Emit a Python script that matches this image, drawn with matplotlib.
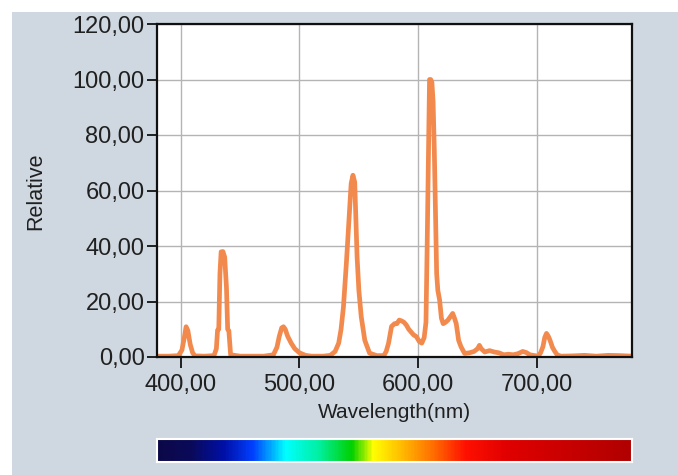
import matplotlib
matplotlib.use('Agg')
import matplotlib.pyplot as plt
import numpy as np
from matplotlib.colors import LinearSegmentedColormap
from matplotlib.patches import Rectangle

# spectrum (nm, relative intensity)
wavelength = [380, 390, 398, 401, 403, 404.5, 406, 408, 410, 412, 420, 428, 430, 431, 432,
              433, 434, 435.5, 437, 438.5, 439.5, 440.5, 442, 450, 470, 478, 481, 483, 485,
              486.5, 488, 490, 493, 496, 500, 505, 510, 520, 526, 530, 533, 535, 537, 539.5,
              541.5, 543.5, 545, 546.5, 547.5, 548.5, 550, 552, 555, 559, 565, 571, 573, 575,
              577.5, 580, 582, 584, 586, 588, 590, 592, 594, 596, 598.5, 601, 603, 605, 606.5,
              607.5, 608.5, 609.5, 610.5, 611.5, 612.5, 613.5, 614.5, 615.5, 616.5, 618, 619.5,
              621, 623, 625, 627, 629, 630.5, 632, 634, 636, 639, 643, 647, 650, 651.5, 653,
              656, 660, 664, 668, 672, 676, 680, 684, 688, 691, 694, 698, 701, 703, 705, 706.5,
              708, 709.5, 711, 713, 715, 717, 720, 730, 740, 750, 760, 770, 780]
relative = [0.3, 0.3, 0.5, 2.5, 7.0, 10.9, 9.5, 4.5, 1.5, 0.4, 0.3, 0.5, 3.0, 9.7, 10.0,
            30.0, 37.9, 38.0, 36.0, 25.0, 10.0, 9.5, 0.8, 0.3, 0.3, 0.8, 3.5, 7.5, 10.5,
            10.9, 10.0, 7.5, 5.0, 3.0, 1.5, 0.6, 0.3, 0.3, 0.6, 2.0, 5.0, 10.0, 18.0, 34.0,
            48.0, 62.5, 65.5, 63.0, 50.0, 36.0, 24.0, 14.5, 6.0, 1.4, 0.5, 0.5, 2.0, 5.0,
            11.0, 12.0, 12.0, 13.3, 13.0, 12.5, 11.5, 10.0, 9.0, 8.0, 7.3, 5.5, 5.0, 7.0, 12.5,
            40.0, 71.0, 100.0, 100.0, 99.0, 92.0, 75.0, 52.0, 30.0, 24.0, 20.5, 14.0,
            12.0, 12.5, 13.3, 14.5, 15.7, 14.0, 12.0, 6.0, 3.7, 1.3, 1.5, 2.0, 3.0, 4.2, 3.0,
            1.8, 2.3, 1.8, 1.5, 0.8, 1.0, 0.8, 1.2, 2.0, 1.6, 0.8, 0.5, 0.3, 1.5, 3.7, 7.0,
            8.5, 7.5, 6.0, 3.5, 2.0, 0.8, 0.3, 0.4, 0.6, 0.3, 0.6, 0.5, 0.3]

xticks = [400, 500, 600, 700]
yticks = [0, 20, 40, 60, 80, 100, 120]

spectrum_stops = [(0.0, '#0c0848'), (0.07, '#0a0a5a'), (0.14, '#0010a8'), (0.20, '#0040ff'),
                  (0.27, '#00ffff'), (0.34, '#00f0a0'), (0.41, '#00d000'), (0.455, '#ffff00'),
                  (0.525, '#ffb000'), (0.58, '#ff7000'), (0.65, '#ff1000'), (0.74, '#e00000'),
                  (1.0, '#b00000')]

plt.rcParams['font.family'] = ['Liberation Sans', 'DejaVu Sans']

W, H = 678, 475
fig = plt.figure(figsize=(W / 100, H / 100), dpi=100, facecolor='white')
fig.patches.append(Rectangle((12 / W, 0), 1, (H - 12) / H, transform=fig.transFigure,
                             facecolor='#cfd8e0', edgecolor='none', zorder=-10))

ax = fig.add_axes([157 / W, (H - 357) / H, 475 / W, 333 / H])
ax.plot(wavelength, relative, color='#f28a4e', lw=3.4, solid_joinstyle='round')
ax.set_xlim(380, 780)
ax.set_ylim(0, 120)
ax.set_xticks(xticks)
ax.set_xticklabels([f'{v:.2f}'.replace('.', ',') for v in xticks])
ax.set_yticks(yticks)
ax.set_yticklabels([f'{v:.2f}'.replace('.', ',') for v in yticks])
ax.grid(True, color='#b4b4b4', lw=1.0)
ax.set_axisbelow(True)
for s in ax.spines.values():
    s.set_color('#101010')
    s.set_linewidth(1.6)
ax.tick_params(axis='y', direction='out', length=7, width=1.2, pad=2, labelsize=17,
               labelcolor='#202020')
ax.tick_params(axis='x', direction='out', length=8, width=1.2, pad=4, labelsize=17,
               labelcolor='#202020')
ax.set_xlabel('Wavelength(nm)', fontsize=15, color='#202020', labelpad=5)
fig.text(35.5 / W, 1 - 191 / H, 'Relative', rotation=90, fontsize=15.5, color='#202020',
         ha='center', va='center')

# spectrum bar under the axis
cmap = LinearSegmentedColormap.from_list('spec', spectrum_stops)
cax = fig.add_axes([157 / W, (H - 462) / H, 475 / W, 23 / H])
cax.imshow(np.linspace(0, 1, 400)[None, :], aspect='auto', cmap=cmap)
cax.set_xticks([])
cax.set_yticks([])
for s in cax.spines.values():
    s.set_color('white')
    s.set_linewidth(1.5)

fig.savefig('out.png', dpi=100, facecolor=fig.get_facecolor())
